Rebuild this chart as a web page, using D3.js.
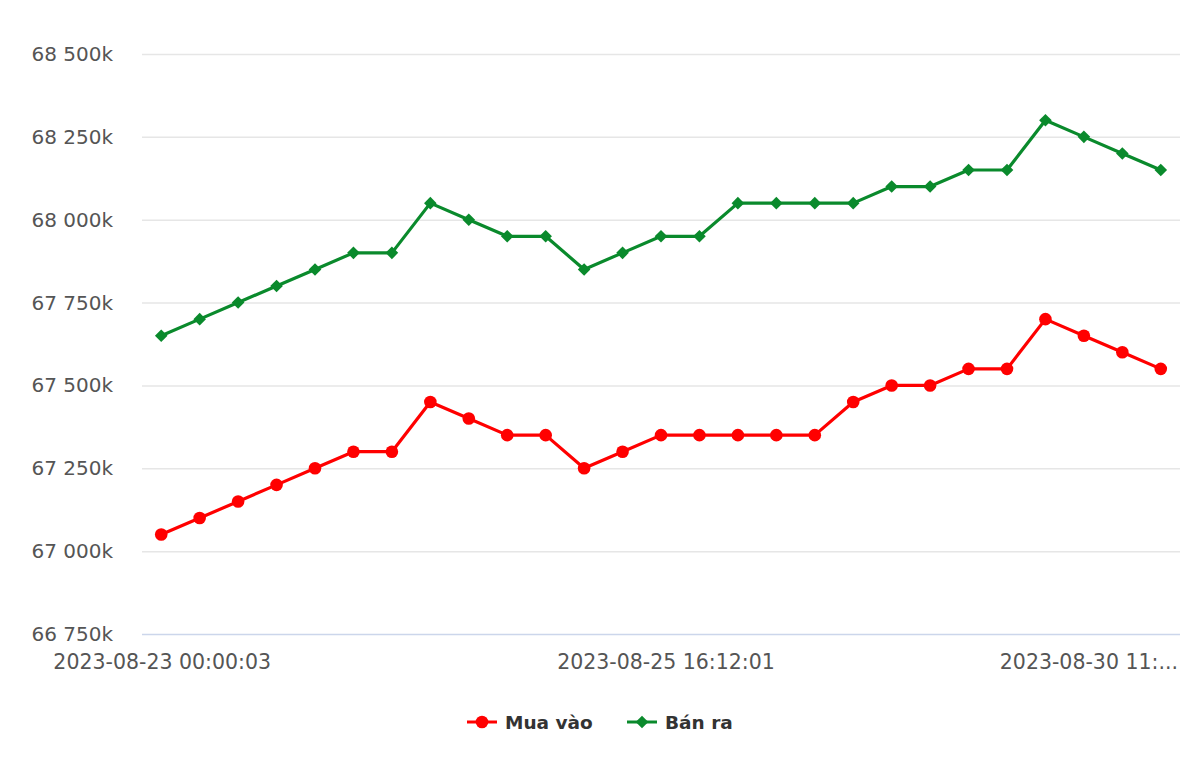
<!DOCTYPE html>
<html><head><meta charset="utf-8">
<script src="https://cdn.jsdelivr.net/npm/d3@7/dist/d3.min.js"></script>
<style>body{margin:0;background:#fff}svg{display:block}</style>
</head><body><svg id="c" width="1200" height="770"></svg>
<script>
const buyValues = [67050,67100,67150,67200,67250,67300,67300,67450,67400,67350,67350,67250,67300,67350,67350,67350,67350,67350,67450,67500,67500,67550,67550,67700,67650,67600,67550];
const sellValues = [67650,67700,67750,67800,67850,67900,67900,68050,68000,67950,67950,67850,67900,67950,67950,68050,68050,68050,68050,68100,68100,68150,68150,68300,68250,68200,68150];
const yTicks = [66750,67000,67250,67500,67750,68000,68250,68500];
const xTickIndex = [0,13,26];
const xTickLabels = ["2023-08-23 00:00:03","2023-08-25 16:12:01","2023-08-30 11:..."];
const seriesNames = ["Mua vào","Bán ra"];
const seriesColors = ["#ff0000","#0a8a2c"];

const svg = d3.select("#c");
const L=142,R=1180,T=54,B=634;
const x = d3.scaleBand().domain(d3.range(buyValues.length)).range([L,R]);
const cx = i => x(i)+x.bandwidth()/2;
const y = d3.scaleLinear().domain([66750,68500]).range([B,T]);
const font = "DejaVu Sans, sans-serif";

// grid
svg.append("g").selectAll("line").data(yTicks.slice(1)).join("line")
  .attr("x1",L).attr("x2",R).attr("y1",d=>y(d)+0.5).attr("y2",d=>y(d)+0.5)
  .attr("stroke","#e6e6e6").attr("stroke-width",1.5);
svg.append("line").attr("x1",L).attr("x2",R).attr("y1",B+0.5).attr("y2",B+0.5)
  .attr("stroke","#ccd6eb").attr("stroke-width",1.5);

svg.append("g").selectAll("text").data(yTicks).join("text")
  .attr("x",113).attr("y",d=>y(d)+7).attr("text-anchor","end")
  .attr("font-family",font).attr("font-size",20).attr("fill","#555")
  .text(d=>String(d).slice(0,2)+" "+String(d).slice(2)+"k");

svg.append("g").selectAll("text").data(xTickIndex).join("text")
  .attr("x",(d,i)=> i===0 ? cx(d)+1 : (i===xTickIndex.length-1 ? R-2 : cx(d)+5))
  .attr("y",669)
  .attr("text-anchor",(d,i)=> i===xTickIndex.length-1 ? "end" : "middle")
  .attr("font-family",font).attr("font-size",20.5).attr("fill","#555")
  .text((d,i)=>xTickLabels[i]);

const line = d3.line().x((d,i)=>cx(i)).y(d=>y(d));
const sets=[buyValues,sellValues];
sets.forEach((vals,si)=>{
  svg.append("path").datum(vals).attr("d",line).attr("fill","none")
    .attr("stroke",seriesColors[si]).attr("stroke-width",3.2).attr("stroke-linejoin","round");
});
svg.append("g").selectAll("circle").data(buyValues).join("circle")
  .attr("cx",(d,i)=>cx(i)).attr("cy",d=>y(d)).attr("r",6.3).attr("fill",seriesColors[0]);
const dia = s => `M0,${-s}L${s},0L0,${s}L${-s},0Z`;
svg.append("g").selectAll("path").data(sellValues).join("path")
  .attr("transform",(d,i)=>`translate(${cx(i)},${y(d)})`).attr("d",dia(6.3)).attr("fill",seriesColors[1]);

// legend
const lg = svg.append("g");
const legX=[467,627];
seriesNames.forEach((n,i)=>{
  lg.append("line").attr("x1",legX[i]).attr("x2",legX[i]+30).attr("y1",722).attr("y2",722)
    .attr("stroke",seriesColors[i]).attr("stroke-width",3);
  if(i===0) lg.append("circle").attr("cx",legX[i]+15).attr("cy",722).attr("r",6.3).attr("fill",seriesColors[i]);
  else lg.append("path").attr("transform",`translate(${legX[i]+15},722)`).attr("d",dia(6.3)).attr("fill",seriesColors[i]);
  lg.append("text").attr("x",legX[i]+38).attr("y",729).attr("font-family",font)
    .attr("font-size",18.5).attr("font-weight","bold").attr("fill","#333").text(n);
});
</script></body></html>
